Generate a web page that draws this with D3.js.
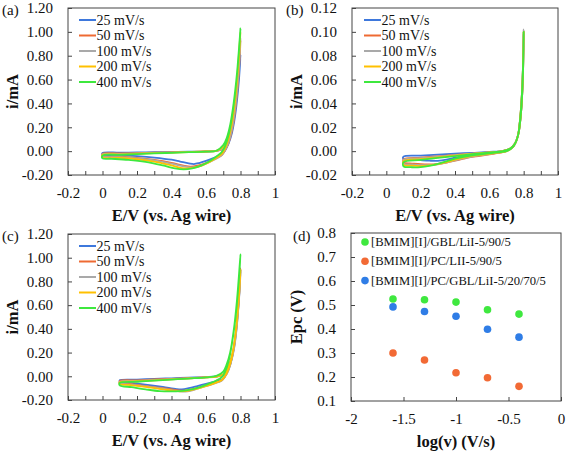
<!DOCTYPE html>
<html><head><meta charset="utf-8">
<script src="https://cdn.jsdelivr.net/npm/d3@7"></script>
<style>
html,body{margin:0;padding:0;background:#fff;}
svg, svg text, svg g{font-family:"Liberation Serif","Times New Roman",serif !important;}
svg text{fill:#111;}
</style></head>
<body>
<svg id="c" width="567" height="452" style="font-family:'Liberation Serif','Times New Roman',serif"></svg>
<script>
// ---------- DATA ----------
const rates = ["25 mV/s","50 mV/s","100 mV/s","200 mV/s","400 mV/s"];
const rateColors = ["#3E78DC","#EE6A33","#A9A9A9","#FFC000","#3EE83E"];

// Panel (a) CV loops [E (V), i (mA)]
const cvA_25 = [[0,-0.015],[0.1,-0.013],[0.2,-0.011],[0.3,-0.009],[0.4,-0.007],[0.5,-0.005],[0.6,-0.002],[0.66,0.003],[0.7,0.02],[0.72,0.05],[0.74,0.11],[0.76,0.22],[0.78,0.44],[0.8,0.81],
 [0.79,0.58],[0.77,0.31],[0.75,0.15],[0.73,0.06],[0.71,0.005],[0.69,-0.03],[0.65,-0.055],[0.6,-0.082],[0.56,-0.1],[0.53,-0.108],[0.5,-0.102],[0.45,-0.087],[0.4,-0.072],[0.3,-0.054],[0.2,-0.042],[0.1,-0.034],[0,-0.03]];
const cvA_50 = [[0,-0.022],[0.1,-0.019],[0.2,-0.016],[0.3,-0.013],[0.4,-0.01],[0.5,-0.007],[0.6,-0.003],[0.66,0.002],[0.7,0.022],[0.72,0.055],[0.74,0.12],[0.76,0.25],[0.78,0.5],[0.8,0.93],
 [0.79,0.66],[0.77,0.35],[0.75,0.17],[0.73,0.065],[0.71,0.005],[0.69,-0.035],[0.65,-0.065],[0.6,-0.1],[0.55,-0.122],[0.51,-0.13],[0.47,-0.122],[0.4,-0.098],[0.3,-0.073],[0.2,-0.057],[0.1,-0.047],[0,-0.04]];
const cvA_100 = [[0,-0.027],[0.1,-0.023],[0.2,-0.019],[0.3,-0.015],[0.4,-0.011],[0.5,-0.007],[0.6,-0.003],[0.66,0.002],[0.7,0.025],[0.72,0.06],[0.74,0.13],[0.76,0.27],[0.78,0.52],[0.8,0.95],
 [0.79,0.68],[0.77,0.37],[0.75,0.18],[0.73,0.07],[0.71,0.005],[0.69,-0.035],[0.65,-0.07],[0.6,-0.105],[0.56,-0.128],[0.52,-0.137],[0.48,-0.13],[0.4,-0.105],[0.3,-0.078],[0.2,-0.061],[0.1,-0.05],[0,-0.045]];
const cvA_200 = [[0,-0.032],[0.1,-0.027],[0.2,-0.022],[0.3,-0.017],[0.4,-0.012],[0.5,-0.008],[0.6,-0.003],[0.66,0.002],[0.7,0.035],[0.72,0.08],[0.74,0.17],[0.76,0.33],[0.78,0.6],[0.8,1.0],
 [0.79,0.76],[0.77,0.44],[0.75,0.23],[0.73,0.1],[0.71,0.02],[0.69,-0.025],[0.65,-0.065],[0.6,-0.105],[0.55,-0.132],[0.5,-0.145],[0.46,-0.142],[0.4,-0.12],[0.3,-0.088],[0.2,-0.068],[0.1,-0.057],[0,-0.052]];
const cvA_400 = [[0,-0.037],[0.1,-0.031],[0.2,-0.025],[0.3,-0.019],[0.4,-0.014],[0.5,-0.009],[0.6,-0.004],[0.66,0.003],[0.7,0.05],[0.72,0.11],[0.74,0.22],[0.76,0.4],[0.78,0.66],[0.8,1.03],
 [0.79,0.82],[0.77,0.5],[0.75,0.28],[0.73,0.13],[0.71,0.04],[0.69,-0.01],[0.66,-0.045],[0.62,-0.085],[0.57,-0.122],[0.52,-0.145],[0.47,-0.153],[0.42,-0.145],[0.35,-0.12],[0.25,-0.09],[0.15,-0.073],[0.05,-0.064],[0,-0.06]];

// Panel (b)
const cvB_25 = [[0.1,-0.0045],[0.2,-0.0037],[0.3,-0.0029],[0.4,-0.0021],[0.5,-0.0014],[0.6,-0.0007],[0.68,0.0002],[0.72,0.002],[0.75,0.0065],[0.77,0.015],[0.785,0.033],[0.795,0.06],[0.8,0.098],
 [0.797,0.074],[0.79,0.047],[0.78,0.027],[0.765,0.012],[0.74,0.004],[0.7,0.0002],[0.65,-0.0008],[0.55,-0.002],[0.45,-0.0038],[0.4,-0.0055],[0.35,-0.0072],[0.3,-0.0081],[0.25,-0.008],[0.2,-0.0076],[0.15,-0.0071],[0.1,-0.0066]];
const cvB_50 = [[0.1,-0.0068],[0.2,-0.0055],[0.3,-0.0043],[0.4,-0.0031],[0.5,-0.002],[0.6,-0.001],[0.68,0.0001],[0.72,0.002],[0.75,0.0065],[0.77,0.015],[0.785,0.033],[0.795,0.06],[0.8,0.1],
 [0.797,0.075],[0.79,0.048],[0.78,0.028],[0.765,0.012],[0.74,0.004],[0.7,0.0],[0.65,-0.0015],[0.6,-0.0028],[0.5,-0.0048],[0.45,-0.0063],[0.4,-0.008],[0.35,-0.0096],[0.3,-0.0107],[0.25,-0.0112],[0.2,-0.011],[0.15,-0.0104],[0.1,-0.0097]];
const cvB_100 = [[0.1,-0.0073],[0.2,-0.0059],[0.3,-0.0046],[0.4,-0.0033],[0.5,-0.0021],[0.6,-0.001],[0.68,0.0001],[0.72,0.002],[0.75,0.0066],[0.77,0.0152],[0.785,0.034],[0.795,0.062],[0.8,0.102],
 [0.797,0.076],[0.79,0.049],[0.78,0.028],[0.765,0.012],[0.74,0.004],[0.7,0.0],[0.65,-0.0013],[0.6,-0.0025],[0.5,-0.0045],[0.45,-0.006],[0.4,-0.0078],[0.35,-0.0096],[0.3,-0.011],[0.25,-0.0117],[0.2,-0.0118],[0.15,-0.0112],[0.1,-0.0104]];
const cvB_200 = [[0.1,-0.0084],[0.2,-0.0067],[0.3,-0.0052],[0.4,-0.0037],[0.5,-0.0024],[0.6,-0.0011],[0.68,0.0001],[0.72,0.002],[0.75,0.0065],[0.77,0.015],[0.785,0.033],[0.795,0.06],[0.8,0.1],
 [0.797,0.075],[0.79,0.048],[0.78,0.028],[0.765,0.012],[0.74,0.004],[0.7,0.0],[0.65,-0.0012],[0.6,-0.0022],[0.5,-0.004],[0.45,-0.0054],[0.4,-0.0072],[0.35,-0.0092],[0.3,-0.0109],[0.25,-0.012],[0.2,-0.0125],[0.15,-0.0122],[0.1,-0.0115]];
const cvB_400 = [[0.1,-0.0093],[0.2,-0.0074],[0.3,-0.0057],[0.4,-0.0041],[0.5,-0.0026],[0.6,-0.0012],[0.68,0.0001],[0.72,0.002],[0.75,0.0065],[0.77,0.015],[0.785,0.033],[0.795,0.06],[0.8,0.1],
 [0.797,0.075],[0.79,0.048],[0.78,0.028],[0.765,0.012],[0.74,0.004],[0.7,0.0],[0.65,-0.001],[0.6,-0.0019],[0.5,-0.0035],[0.45,-0.0047],[0.4,-0.0063],[0.35,-0.0085],[0.3,-0.0107],[0.25,-0.0124],[0.2,-0.0134],[0.15,-0.0135],[0.1,-0.0127]];

// Panel (c)
const cvC_25 = [[0.1,-0.033],[0.2,-0.028],[0.3,-0.022],[0.4,-0.017],[0.5,-0.012],[0.6,-0.007],[0.66,-0.001],[0.7,0.015],[0.72,0.045],[0.74,0.11],[0.76,0.22],[0.78,0.45],[0.8,0.9],
 [0.79,0.63],[0.77,0.32],[0.75,0.15],[0.73,0.055],[0.71,0.0],[0.69,-0.03],[0.65,-0.045],[0.6,-0.063],[0.55,-0.082],[0.5,-0.1],[0.46,-0.11],[0.43,-0.108],[0.35,-0.09],[0.25,-0.07],[0.15,-0.052],[0.1,-0.043]];
const cvC_50 = [[0.1,-0.04],[0.2,-0.034],[0.3,-0.027],[0.4,-0.021],[0.5,-0.015],[0.6,-0.008],[0.66,-0.002],[0.7,0.015],[0.72,0.045],[0.74,0.11],[0.76,0.23],[0.78,0.47],[0.8,0.91],
 [0.79,0.64],[0.77,0.33],[0.75,0.155],[0.73,0.055],[0.71,-0.002],[0.69,-0.035],[0.65,-0.055],[0.6,-0.077],[0.55,-0.098],[0.5,-0.115],[0.47,-0.122],[0.43,-0.117],[0.35,-0.1],[0.25,-0.08],[0.15,-0.063],[0.1,-0.055]];
const cvC_100 = [[0.1,-0.045],[0.2,-0.038],[0.3,-0.031],[0.4,-0.024],[0.5,-0.017],[0.6,-0.009],[0.66,-0.003],[0.7,0.012],[0.72,0.04],[0.74,0.1],[0.76,0.21],[0.78,0.44],[0.8,0.88],
 [0.79,0.62],[0.77,0.32],[0.75,0.15],[0.73,0.05],[0.71,-0.004],[0.69,-0.038],[0.65,-0.06],[0.6,-0.083],[0.55,-0.105],[0.51,-0.123],[0.48,-0.13],[0.44,-0.125],[0.35,-0.105],[0.25,-0.085],[0.15,-0.068],[0.1,-0.06]];
const cvC_200 = [[0.1,-0.05],[0.2,-0.042],[0.3,-0.034],[0.4,-0.026],[0.5,-0.018],[0.6,-0.01],[0.66,-0.002],[0.7,0.018],[0.72,0.05],[0.74,0.12],[0.76,0.24],[0.78,0.48],[0.8,0.9],
 [0.79,0.65],[0.77,0.34],[0.75,0.16],[0.73,0.06],[0.71,0.0],[0.69,-0.033],[0.65,-0.057],[0.6,-0.082],[0.55,-0.105],[0.5,-0.12],[0.45,-0.127],[0.41,-0.123],[0.35,-0.11],[0.25,-0.09],[0.15,-0.073],[0.1,-0.066]];
const cvC_400 = [[0.1,-0.055],[0.2,-0.046],[0.3,-0.037],[0.4,-0.028],[0.5,-0.019],[0.6,-0.009],[0.66,0.003],[0.7,0.04],[0.72,0.1],[0.74,0.2],[0.76,0.38],[0.78,0.65],[0.8,1.03],
 [0.79,0.8],[0.77,0.48],[0.75,0.27],[0.73,0.12],[0.71,0.035],[0.69,-0.01],[0.66,-0.035],[0.62,-0.06],[0.56,-0.093],[0.5,-0.115],[0.45,-0.125],[0.4,-0.128],[0.33,-0.125],[0.25,-0.11],[0.17,-0.092],[0.1,-0.076]];

// Panel (d)
const logV = [-1.6,-1.3,-1.0,-0.7,-0.4];
const epcGBL = [0.525,0.522,0.512,0.48,0.462];
const epcPC = [0.30,0.271,0.218,0.197,0.161];
const epcMix = [0.492,0.473,0.453,0.399,0.366];
const dSeriesNames = ["[BMIM][I]/GBL/LiI-5/90/5","[BMIM][I]/PC/LII-5/90/5","[BMIM][I]/PC/GBL/LiI-5/20/70/5"];
const dColors = ["#3FE83F","#F26A35","#2F7DE6"];

// Tick values
const cvXTicks = [-0.2,-0.1,0,0.1,0.2,0.3,0.4,0.5,0.6,0.7,0.8,0.9,1.0];
const cvXLabels = [-0.2,0,0.2,0.4,0.6,0.8,1.0];
const acYTicks = [-0.2,0,0.2,0.4,0.6,0.8,1.0,1.2];
const bYTicks = [-0.02,0,0.02,0.04,0.06,0.08,0.10,0.12];
const dXTicks = [-2,-1.5,-1,-0.5,0];
const dYTicks = [0.1,0.2,0.3,0.4,0.5,0.6,0.7,0.8];

// ---------- DRAW ----------
const svg = d3.select("#c");
const FONT = "'Liberation Serif','Times New Roman',serif";

function txt(sel){ return sel.style("font-family",FONT); }

function panel(o){
  const g = svg.append("g");
  const x = d3.scaleLinear().domain(o.xd).range([o.l,o.r]);
  const y = d3.scaleLinear().domain(o.yd).range([o.b,o.t]);
  const lblSet = new Set(o.xLabels.map(v=>v.toFixed(3)));
  const xa = d3.axisBottom(x).tickValues(o.xTicks).tickSize(-4).tickPadding(12.5)
     .tickFormat(v => lblSet.has(v.toFixed(3)) ? o.xFmt(v) : "");
  const gx = g.append("g").attr("transform",`translate(0,${o.b})`).call(xa);
  const ya = d3.axisLeft(y).tickValues(o.yTicks).tickSize(-4).tickPadding(15).tickFormat(o.yFmt);
  const gy = g.append("g").attr("transform",`translate(${o.l},0)`).call(ya);
  [gx,gy].forEach(a=>{
    a.attr("font-family",null).style("font-family",FONT);
    a.select(".domain").remove();
    a.selectAll(".tick line").attr("stroke","#444");
    txt(a.selectAll(".tick text")).attr("font-size",15).attr("fill","#111");
  });
  g.append("rect").attr("x",o.l).attr("y",o.t).attr("width",o.r-o.l).attr("height",o.b-o.t)
    .attr("fill","none").attr("stroke","#444").attr("stroke-width",1);
  txt(g.append("text")).attr("x",o.tag[0]).attr("y",o.tag[1]).attr("font-size",15).text(o.tagText);
  txt(g.append("text")).attr("x",(o.l+o.r)/2).attr("y",o.b+46).attr("text-anchor","middle")
    .attr("font-size",16.5).attr("font-weight","bold").text(o.xTitle);
  txt(g.append("text")).attr("transform",`translate(${o.yTitleX},${(o.t+o.b)/2}) rotate(-90)`)
    .attr("text-anchor","middle").attr("dominant-baseline","central")
    .attr("font-size",16.5).attr("font-weight","bold").text(o.yTitle);
  return {g,x,y};
}

function cvPanel(o, loops){
  const p = panel(o);
  const line = d3.line().x(d=>p.x(d[0])).y(d=>p.y(d[1])).curve(d3.curveCatmullRomClosed.alpha(0.5));
  loops.forEach((L,i)=>{
    p.g.append("path").attr("d",line(L)).attr("fill","none")
      .attr("stroke",rateColors[i]).attr("stroke-width",1.8).attr("stroke-linejoin","round");
  });
  rates.forEach((r,i)=>{
    const yy = o.legY + i*15.5;
    p.g.append("line").attr("x1",o.legX).attr("x2",o.legX+17).attr("y1",yy).attr("y2",yy)
      .attr("stroke",rateColors[i]).attr("stroke-width",2);
    txt(p.g.append("text")).attr("x",o.legX+17.5).attr("y",yy).attr("dominant-baseline","central")
      .attr("font-size",14).text(r);
  });
}

const fmt2 = v => v.toFixed(2);
const fmtX = v => String(+v.toFixed(2));
const fmt1 = v => v.toFixed(1);

cvPanel({l:68,r:275,t:8,b:175,xd:[-0.2,1],yd:[-0.2,1.2],xTicks:cvXTicks,xLabels:cvXLabels,xFmt:fmtX,
  yTicks:acYTicks,yFmt:fmt2,tag:[2,15],tagText:"(a)",xTitle:"E/V (vs. Ag wire)",yTitle:"i/mA",yTitleX:12.5,
  legX:79,legY:20},[cvA_25,cvA_50,cvA_100,cvA_200,cvA_400]);
cvPanel({l:352,r:558,t:8,b:175,xd:[-0.2,1],yd:[-0.02,0.12],xTicks:cvXTicks,xLabels:cvXLabels,xFmt:fmtX,
  yTicks:bYTicks,yFmt:fmt2,tag:[286,15],tagText:"(b)",xTitle:"E/V (vs. Ag wire)",yTitle:"i/mA",yTitleX:296,
  legX:364,legY:20},[cvB_25,cvB_50,cvB_100,cvB_200,cvB_400]);
cvPanel({l:68,r:275,t:234,b:400,xd:[-0.2,1],yd:[-0.2,1.2],xTicks:cvXTicks,xLabels:cvXLabels,xFmt:fmtX,
  yTicks:acYTicks,yFmt:fmt2,tag:[2,241],tagText:"(c)",xTitle:"E/V (vs. Ag wire)",yTitle:"i/mA",yTitleX:12.5,
  legX:79,legY:246},[cvC_25,cvC_50,cvC_100,cvC_200,cvC_400]);

// Panel (d)
const pd = panel({l:351,r:561,t:233,b:401,xd:[-2,0],yd:[0.1,0.8],xTicks:dXTicks,xLabels:dXTicks,xFmt:fmtX,
  yTicks:dYTicks,yFmt:fmt1,tag:[293,241],tagText:"(d)",xTitle:"log(v) (V/s)",yTitle:"Epc (V)",yTitleX:296});
[epcGBL,epcPC,epcMix].forEach((s,k)=>{
  pd.g.selectAll(null).data(s).enter().append("circle")
    .attr("cx",(d,i)=>pd.x(logV[i])).attr("cy",d=>pd.y(d)).attr("r",3.8).attr("fill",dColors[k]);
});
dSeriesNames.forEach((n,k)=>{
  const yy = 242 + k*19.3;
  pd.g.append("circle").attr("cx",365).attr("cy",yy).attr("r",3.8).attr("fill",dColors[k]);
  txt(pd.g.append("text")).attr("x",371).attr("y",yy).attr("dominant-baseline","central")
    .attr("font-size",12.6).text(n);
});
</script>
</body></html>
